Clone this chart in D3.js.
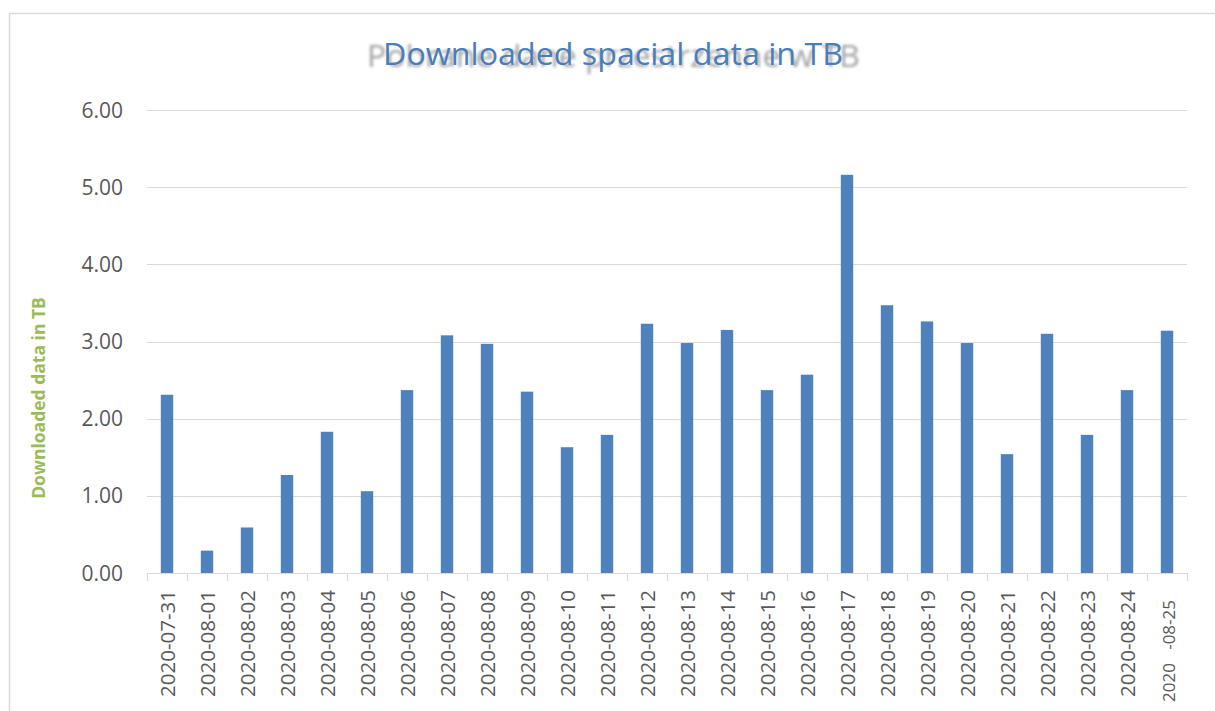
<!DOCTYPE html>
<html>
<head>
<meta charset="utf-8">
<script src="https://cdn.jsdelivr.net/npm/d3@7"></script>
<style>
  html, body { margin: 0; padding: 0; background: #fff; }
  svg { display: block; }
</style>
</head>
<body>
<svg id="chart" width="1215" height="711"></svg>
<script>
// days on the x axis
const days = ["2020-07-31", "2020-08-01", "2020-08-02", "2020-08-03", "2020-08-04",
  "2020-08-05", "2020-08-06", "2020-08-07", "2020-08-08", "2020-08-09", "2020-08-10",
  "2020-08-11", "2020-08-12", "2020-08-13", "2020-08-14", "2020-08-15", "2020-08-16",
  "2020-08-17", "2020-08-18", "2020-08-19", "2020-08-20", "2020-08-21", "2020-08-22",
  "2020-08-23", "2020-08-24", "2020-08-25"];
// downloaded TB per day
const downloadedTB = [2.31, 0.29, 0.59, 1.27, 1.83, 1.06, 2.37, 3.08, 2.97, 2.35, 1.63,
  1.79, 3.23, 2.98, 3.15, 2.37, 2.57, 5.16, 3.47, 3.26, 2.98, 1.54, 3.10, 1.79, 2.37, 3.14];
const yTicks = [0, 1, 2, 3, 4, 5, 6];

const titleText = "Downloaded spacial data in TB";
const ghostTitle = "Pobrane dane przestrzenne w TB";
const yTitle = "Downloaded data in TB";

const svg = d3.select("#chart");
const font = "'Open Sans', 'Liberation Sans', sans-serif";

let plot = {left: 147, right: 1187, top: 110, bottom: 573};

// outer frame (only top and left edges visible)
svg.append("path")
  .attr("d", "M9.5,711 L9.5,13.5 L1215,13.5")
  .attr("fill", "none")
  .attr("stroke", "#d9d9d9")
  .attr("stroke-width", 1.5);

let x = d3.scaleBand().domain(days).range([plot.left, plot.right]).paddingInner(0.69).paddingOuter(0.345);
let y = d3.scaleLinear().domain([0, 6]).range([plot.bottom, plot.top]);

// gridlines
svg.append("g")
  .selectAll("line")
  .data(yTicks.filter(d => d > 0))
  .join("line")
  .attr("x1", plot.left).attr("x2", plot.right)
  .attr("y1", d => Math.round(y(d)) + 0.5).attr("y2", d => Math.round(y(d)) + 0.5)
  .attr("stroke", "#d9d9d9").attr("stroke-width", 1);

// y tick labels
svg.append("g")
  .selectAll("text")
  .data(yTicks)
  .join("text")
  .attr("x", 123)
  .attr("y", d => y(d))
  .attr("dy", "0.36em")
  .attr("text-anchor", "end")
  .attr("font-family", font)
  .attr("font-size", 21)
  .attr("fill", "#595959")
  .text(d => d3.format(".2f")(d));

// bars
svg.append("g")
  .selectAll("rect")
  .data(days)
  .join("rect")
  .attr("x", d => x(d))
  .attr("width", x.bandwidth())
  .attr("y", (d, i) => y(downloadedTB[i]))
  .attr("height", (d, i) => y(0) - y(downloadedTB[i]))
  .attr("fill", "#4f81bd");

// x axis with ticks between categories
let xAxis = svg.append("g");
xAxis.append("line")
  .attr("x1", plot.left).attr("x2", plot.right)
  .attr("y1", plot.bottom + 0.5).attr("y2", plot.bottom + 0.5)
  .attr("stroke", "#d9d9d9").attr("stroke-width", 1.2);
let step = x.step();
xAxis.selectAll("line.tick")
  .data(d3.range(days.length + 1))
  .join("line")
  .attr("class", "tick")
  .attr("x1", i => Math.round(plot.left + i * step) + 0.5)
  .attr("x2", i => Math.round(plot.left + i * step) + 0.5)
  .attr("y1", plot.bottom).attr("y2", plot.bottom + 8)
  .attr("stroke", "#d9d9d9").attr("stroke-width", 1.2);

// rotated day labels
xAxis.selectAll("text")
  .data(days)
  .join("text")
  .attr("transform", (d, i) => "translate(" + (x(d) + x.bandwidth() / 2 + 7.5) + "," +
    (plot.bottom + (i === days.length - 1 ? 27 : 17)) + ") rotate(-90)")
  .attr("text-anchor", "end")
  .attr("font-family", font)
  .attr("font-size", (d, i) => i === days.length - 1 ? 17 : 20.5)
  .attr("fill", "#595959")
  .style("white-space", "pre")
  .text((d, i) => i === days.length - 1 ? "2020   -08-25" : d);

// y axis title
svg.append("text")
  .attr("transform", "translate(45,398) rotate(-90)")
  .attr("text-anchor", "middle")
  .attr("font-family", font)
  .attr("font-weight", "bold")
  .attr("font-size", 17.5)
  .attr("fill", "#9bbb59")
  .text(yTitle);

// blurred ghost title behind the real one
let defs = svg.append("defs");
defs.append("filter").attr("id", "blur")
  .append("feGaussianBlur").attr("stdDeviation", 1.6);

svg.append("text")
  .attr("x", 367).attr("y", 67)
  .attr("textLength", 493)
  .attr("lengthAdjust", "spacingAndGlyphs")
  .attr("font-family", font)
  .attr("font-size", 31)
  .attr("fill", "#8a8a8a")
  .attr("opacity", 0.8)
  .attr("filter", "url(#blur)")
  .text(ghostTitle);

svg.append("text")
  .attr("x", 383).attr("y", 65)
  .attr("textLength", 460)
  .attr("lengthAdjust", "spacingAndGlyphs")
  .attr("font-family", font)
  .attr("font-size", 31)
  .attr("fill", "#4a7ebb")
  .text(titleText);
</script>
</body>
</html>
